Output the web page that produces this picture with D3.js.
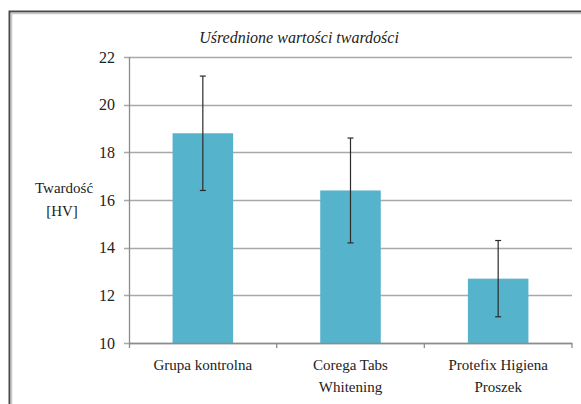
<!DOCTYPE html>
<html>
<head>
<meta charset="utf-8">
<script src="https://cdn.jsdelivr.net/npm/d3@7"></script>
<style>
  body { margin: 0; background: #fff; }
</style>
</head>
<body>
<div id="chart"></div>
<script>
// Data
var categories = ["Grupa kontrolna", "Corega Tabs|Whitening", "Protefix Higiena|Proszek"];
var means = [18.8, 16.4, 12.7];
var errors = [2.4, 2.2, 1.6];
var yTicks = [10, 12, 14, 16, 18, 20, 22];

var svgWidth = 581;
var svgHeight = 404;
var serif = "'Liberation Serif'";

var margin = { top: 57, right: 9, bottom: 61, left: 129 };
var width = svgWidth - margin.left - margin.right;
var height = svgHeight - margin.top - margin.bottom;

var svg = d3.select("#chart")
  .append("svg")
  .attr("width", svgWidth)
  .attr("height", svgHeight);

// frame
svg.append("path")
  .attr("d", "M9.5,404 V11.5 H581")
  .attr("fill", "none")
  .attr("stroke", "#4a4a4a")
  .attr("stroke-width", 2);
svg.append("path")
  .attr("d", "M11.5,404 V13.5 H581")
  .attr("fill", "none")
  .attr("stroke", "#c8c8c8")
  .attr("stroke-width", 1.5);

var chartGroup = svg.append("g")
  .attr("transform", `translate(${margin.left}, ${margin.top})`);

// Scales
var xScale = d3.scaleBand()
  .domain(categories)
  .range([0, width])
  .paddingInner(0.59)
  .paddingOuter(0.295);

var xTicks = d3.scaleLinear().domain([0, categories.length]).range([0, width]);

var yScale = d3.scaleLinear()
  .domain([10, 22])
  .range([height, 0]);

// gridlines
chartGroup.append("g")
  .selectAll("line")
  .data(yTicks)
  .enter()
  .append("line")
    .attr("x1", -5)
    .attr("x2", width)
    .attr("y1", d => Math.round(yScale(d)) + 0.5)
    .attr("y2", d => Math.round(yScale(d)) + 0.5)
    .attr("stroke", "#a9a9a9")
    .attr("stroke-width", 1.3);

// y tick labels
chartGroup.append("g")
  .selectAll("text")
  .data(yTicks)
  .enter()
  .append("text")
    .attr("x", -14)
    .attr("y", d => yScale(d))
    .attr("dy", "0.35em")
    .attr("text-anchor", "end")
    .style("font-family", serif)
    .style("font-size", "16px")
    .style("fill", "#222")
    .text(d => d);

// bars
chartGroup.selectAll("rect")
  .data(categories)
  .enter()
  .append("rect")
    .attr("x", d => xScale(d))
    .attr("width", xScale.bandwidth())
    .attr("y", (d, i) => yScale(means[i]))
    .attr("height", (d, i) => height - yScale(means[i]))
    .attr("fill", "#56b3cc");

// x axis line and ticks
chartGroup.append("line")
  .attr("x1", 0).attr("x2", width)
  .attr("y1", height + 0.5).attr("y2", height + 0.5)
  .attr("stroke", "#8c8c8c")
  .attr("stroke-width", 1.3);

chartGroup.append("line")
  .attr("x1", 0.5).attr("x2", 0.5)
  .attr("y1", 0).attr("y2", height + 5)
  .attr("stroke", "#8c8c8c")
  .attr("stroke-width", 1.3);

chartGroup.append("g")
  .selectAll("line")
  .data(d3.range(1, categories.length + 1))
  .enter()
  .append("line")
    .attr("x1", d => xTicks(d))
    .attr("x2", d => xTicks(d))
    .attr("y1", height)
    .attr("y2", height + 5)
    .attr("stroke", "#8c8c8c")
    .attr("stroke-width", 1.3);

// error bars
var errGroup = chartGroup.append("g")
  .attr("stroke", "#2b2b2b")
  .attr("stroke-width", 1.2);

categories.forEach(function(c, i) {
  var cx = xScale(c) + xScale.bandwidth() / 2;
  var hi = yScale(means[i] + errors[i]);
  var lo = yScale(means[i] - errors[i]);
  errGroup.append("line").attr("x1", cx).attr("x2", cx).attr("y1", hi).attr("y2", lo);
  errGroup.append("line").attr("x1", cx - 3).attr("x2", cx + 3).attr("y1", hi).attr("y2", hi);
  errGroup.append("line").attr("x1", cx - 3).attr("x2", cx + 3).attr("y1", lo).attr("y2", lo);
});

// category labels
categories.forEach(function(c, i) {
  var cx = xScale(c) + xScale.bandwidth() / 2;
  var t = chartGroup.append("text")
    .attr("text-anchor", "middle")
    .attr("y", height + 27)
    .style("font-family", serif)
    .style("font-size", "15px")
    .style("fill", "#222");
  c.split("|").forEach(function(line, j) {
    t.append("tspan").attr("x", cx).attr("dy", j === 0 ? 0 : 22).text(line);
  });
});

// title
svg.append("text")
  .attr("x", 299)
  .attr("y", 43)
  .attr("text-anchor", "middle")
  .style("font-family", serif)
  .style("font-size", "16px")
  .style("font-style", "italic")
  .style("fill", "#222")
  .text("Uśrednione wartości twardości");

// y axis label
var yl = svg.append("text")
  .attr("text-anchor", "middle")
  .attr("y", 193)
  .style("font-family", serif)
  .style("font-size", "15px")
  .style("fill", "#222");
yl.append("tspan").attr("x", 64).text("Twardość");
yl.append("tspan").attr("x", 62).attr("dy", 23).text("[HV]");
</script>
</body>
</html>
